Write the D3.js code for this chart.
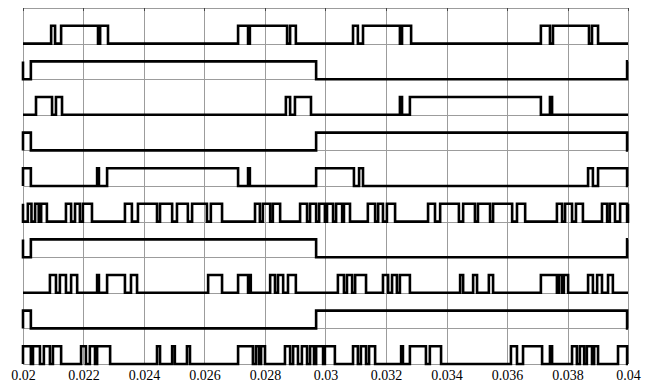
<!DOCTYPE html>
<html>
<head>
<meta charset="utf-8">
<script src="https://cdn.jsdelivr.net/npm/d3@7"></script>
<style>
  html, body { margin: 0; padding: 0; background: #fff; }
  svg { display: block; }
</style>
</head>
<body>
<svg id="chart" width="650" height="385"></svg>
<script>
// time window (s) and tick labels
const tStart = 0.02;
const tEnd = 0.04;
const tickTimes = [0.02, 0.022, 0.024, 0.026, 0.028, 0.03, 0.032, 0.034, 0.036, 0.038, 0.04];

// high intervals [on, off] for every switching signal, top to bottom
const trace1 = [[0.02093,0.02106],[0.02126,0.02248],[0.02255,0.02281],[0.02711,0.02744],[0.0275,0.02873],[0.02883,0.02902],
  [0.03091,0.03107],[0.03124,0.03246],[0.03253,0.03283],[0.03712,0.03742],[0.03752,0.03871],[0.03881,0.03901]];
const trace2 = [[0.02,0.02],[0.02026,0.02969],[0.03997,0.04]];
const trace3 = [[0.02043,0.02096],[0.02109,0.02129],[0.02869,0.02883],[0.02899,0.02952],[0.03246,0.03253],[0.03279,0.03712],[0.03742,0.03749]];
const trace4 = [[0.02,0.02026],[0.02969,0.03997]];
const trace5 = [[0.02,0.02026],[0.02245,0.02251],[0.02278,0.02711],[0.02744,0.0275],[0.02969,0.03094],[0.03111,0.03124],
  [0.03868,0.03884],[0.03901,0.03997]];
const trace6 = [[0.02,0.02],[0.02016,0.02028],[0.0204,0.02052],[0.0206,0.02079],[0.02142,0.02159],[0.02172,0.02188],[0.02198,0.02228],
  [0.02337,0.0236],[0.0238,0.02443],[0.02453,0.02493],[0.02509,0.02545],[0.02559,0.02608],[0.02621,0.02658],
  [0.02767,0.02783],[0.02793,0.02817],[0.02826,0.0285],[0.02916,0.02939],[0.02949,0.02969],[0.02979,0.02998],
  [0.03005,0.03025],[0.03035,0.03055],[0.03061,0.03081],[0.0314,0.03164],[0.03174,0.0319],[0.03203,0.0323],
  [0.03339,0.03362],[0.03379,0.03441],[0.03455,0.03494],[0.03504,0.03544],[0.03554,0.03617],[0.03633,0.0366],
  [0.03765,0.03782],[0.03792,0.03815],[0.03828,0.03851],[0.03914,0.03931],[0.0394,0.03957],[0.03974,0.03997],[0.04,0.04]];
const trace7 = [[0.02,0.02],[0.02026,0.02969],[0.03997,0.04]];
const trace8 = [[0.02089,0.02109],[0.02122,0.02142],[0.02159,0.02179],[0.02245,0.02251],[0.02278,0.02337],[0.02357,0.02377],
  [0.02612,0.02658],[0.02711,0.02744],[0.02747,0.02753],[0.02817,0.02833],[0.02843,0.0286],[0.02876,0.02902],
  [0.03041,0.03061],[0.03071,0.03088],[0.03098,0.03134],[0.0319,0.03207],[0.0322,0.03236],[0.03246,0.03279],
  [0.03445,0.03455],[0.03488,0.03501],[0.0354,0.03554],[0.03712,0.03765],[0.03772,0.03782],[0.03788,0.03802],
  [0.03868,0.03884],[0.03898,0.03914],[0.03934,0.0395]];
const trace9 = [[0.02,0.02026],[0.02969,0.03997]];
const trace10 = [[0.02,0.02026],[0.02033,0.02056],[0.02069,0.02089],[0.02099,0.02126],[0.02192,0.02208],[0.02221,0.02238],[0.02245,0.02288],
  [0.02443,0.02453],[0.02493,0.02502],[0.02542,0.02552],[0.02711,0.0276],[0.0277,0.0278],[0.02787,0.028],
  [0.02866,0.02883],[0.02893,0.02909],[0.02922,0.02939],[0.02949,0.02962],[0.02969,0.02992],[0.02998,0.03031],
  [0.03091,0.03107],[0.03117,0.03134],[0.03144,0.03164],[0.0325,0.03256],[0.03279,0.03332],[0.03345,0.03382],
  [0.03613,0.03633],[0.03653,0.03716],[0.03742,0.03749],[0.03815,0.03831],[0.03841,0.03855],[0.03864,0.03881],
  [0.03888,0.03901],[0.03967,0.03997]];

const traces = [trace1, trace2, trace3, trace4, trace5, trace6, trace7, trace8, trace9, trace10];

const width = 650, height = 385;
const margin = { top: 8, right: 22, bottom: 21, left: 23 };
const innerW = width - margin.left - margin.right;
const innerH = height - margin.top - margin.bottom;

const svg = d3.select('#chart');
const g = svg.append('g').attr('transform', `translate(${margin.left},${margin.top})`);

const x = d3.scaleLinear().domain([tStart, tEnd]).range([0, innerW]);
const band = d3.scaleBand().domain(d3.range(traces.length)).range([0, innerH]).padding(0);

// grid: vertical lines at ticks, horizontal lines at each band bottom
g.append('g')
  .selectAll('line')
  .data(tickTimes)
  .join('line')
  .attr('x1', d => Math.round(x(d)) + 0.5)
  .attr('x2', d => Math.round(x(d)) + 0.5)
  .attr('y1', 0)
  .attr('y2', innerH)
  .attr('stroke', '#9c9c9c')
  .attr('stroke-width', 1);

g.append('g')
  .selectAll('line')
  .data(d3.range(traces.length + 1))
  .join('line')
  .attr('x1', 0)
  .attr('x2', innerW)
  .attr('y1', i => Math.round(i * band.bandwidth()) + 0.5)
  .attr('y2', i => Math.round(i * band.bandwidth()) + 0.5)
  .attr('stroke', '#9c9c9c')
  .attr('stroke-width', 1);

// small tick stubs along the top edge
g.append('g')
  .selectAll('line')
  .data(tickTimes)
  .join('line')
  .attr('x1', d => Math.round(x(d)) + 0.5)
  .attr('x2', d => Math.round(x(d)) + 0.5)
  .attr('y1', 0)
  .attr('y2', 3)
  .attr('stroke', '#444');

// bottom tick labels
const axis = d3.axisBottom(x)
  .tickValues(tickTimes)
  .tickSize(0)
  .tickPadding(6)
  .tickFormat(d => String(+d.toFixed(3)));

g.append('g')
  .attr('transform', `translate(0,${innerH})`)
  .call(axis)
  .call(sel => sel.select('.domain').remove())
  .call(sel => sel.selectAll('text')
    .style('font-family', '"Liberation Serif", "Times New Roman", serif')
    .style('font-size', '14px')
    .style('fill', '#000'));

// turn high intervals into step points [t, level]
function stepPoints(intervals) {
  const pts = [[tStart, 0]];
  let endHigh = false;
  intervals.forEach(([on, off]) => {
    pts.push([on, 0], [on, 1], [off, 1]);
    if (off < tEnd) pts.push([off, 0]);
    else endHigh = true;
  });
  if (!endHigh) pts.push([tEnd, 0]);
  return pts;
}

const traceG = g.append('g');
traces.forEach((intervals, i) => {
  const bottom = band(i) + band.bandwidth();
  const y = d3.scaleLinear().domain([0, 1]).range([bottom, bottom - band.bandwidth() / 2]);
  const line = d3.line().x(d => x(d[0])).y(d => y(d[1]));
  traceG.append('path')
    .datum(stepPoints(intervals))
    .attr('d', line)
    .attr('fill', 'none')
    .attr('stroke', '#000')
    .attr('stroke-width', 2.6)
    .attr('stroke-linejoin', 'miter');
});
</script>
</body>
</html>
